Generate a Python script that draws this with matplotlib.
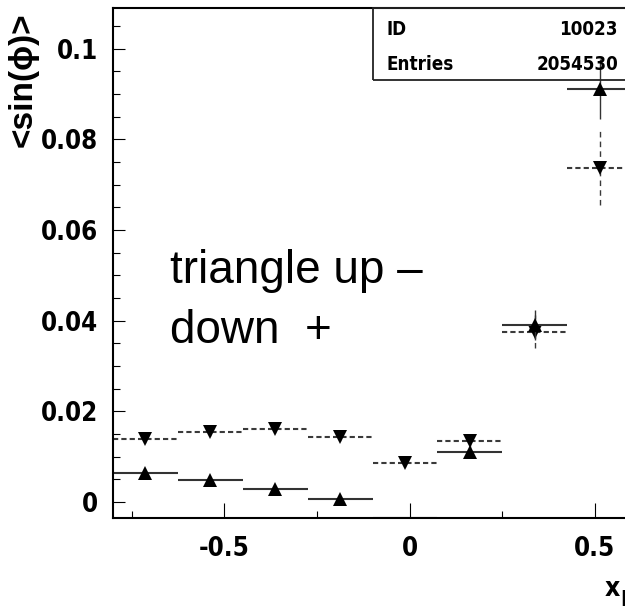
import matplotlib
matplotlib.use("Agg")
import matplotlib.pyplot as plt
import numpy as np
from matplotlib.ticker import FixedLocator, MultipleLocator
from matplotlib.patches import Rectangle

plt.rcParams['axes.unicode_minus'] = False

# bins in x_F (width 0.175)
bin_lo = np.array([-0.8, -0.625, -0.45, -0.275, -0.1, 0.075, 0.25, 0.425])
bin_hi = np.array([-0.625, -0.45, -0.275, -0.1, 0.075, 0.25, 0.425, 0.6])

# triangle up (solid)
up_vals = np.array([0.0063, 0.0048, 0.0028, 0.0006, -0.006, 0.0111, 0.0391, 0.0911])
up_errs = np.array([0.0008, 0.0008, 0.0008, 0.0008, 0.0008, 0.0012, 0.0033, 0.0066])
# triangle down (dashed)
dn_vals = np.array([0.0140, 0.0154, 0.0162, 0.0143, 0.0087, 0.0135, 0.0376, 0.0737])
dn_errs = np.array([0.0009, 0.0009, 0.0009, 0.0009, 0.0009, 0.0012, 0.0036, 0.0082])

xtick_vals = [-0.5, 0, 0.5]
xtick_labels = ['-0.5', '0', '0.5']
ytick_vals = [0, 0.02, 0.04, 0.06, 0.08, 0.1]
ytick_labels = ['0', '0.02', '0.04', '0.06', '0.08', '0.1']

# narrow bold look (ROOT helvetica narrow)
nfont = dict(family='DejaVu Sans', stretch='condensed', weight='bold')
ymin, ymax = -0.00353, 0.109

fig = plt.figure(figsize=(6.25, 6.09), dpi=100)
ax = fig.add_axes([0.1808, 0.1494, 1 - 0.1808, 0.9869 - 0.1494])
ax.set_xlim(-0.8, 0.581)
ax.set_ylim(ymin, ymax)

centers = (bin_lo + bin_hi) / 2
dash = (0, (2.5, 1.5))

# ROOT draws bars clipped to the frame, so keep them at the bottom edge
up_bar = np.maximum(up_vals, ymin)
dn_bar = np.maximum(dn_vals, ymin)

ax.hlines(dn_bar, bin_lo, bin_hi, colors='#3a3a3a', lw=1.5, linestyles=dash)
ax.vlines(centers, dn_vals - dn_errs, dn_vals + dn_errs, colors='#3a3a3a', lw=1.0, linestyles=(0, (4, 3)))
ax.plot(centers, dn_vals, 'v', color='k', ms=10.5, mew=0)

ax.hlines(up_bar, bin_lo, bin_hi, colors='#333333', lw=1.5)
ax.vlines(centers, up_vals - up_errs, up_vals + up_errs, colors='#333333', lw=1.0)
ax.plot(centers, up_vals, '^', color='k', ms=10.5, mew=0)

ax.spines['right'].set_visible(False)
for s in ['left', 'bottom', 'top']:
    ax.spines[s].set_linewidth(1.5)

ax.xaxis.set_major_locator(FixedLocator(xtick_vals))
ax.set_xticklabels(xtick_labels)
ax.xaxis.set_minor_locator(MultipleLocator(0.25))
ax.yaxis.set_major_locator(FixedLocator(ytick_vals))
ax.set_yticklabels(ytick_labels)
ax.yaxis.set_minor_locator(MultipleLocator(0.005))

ax.tick_params(axis='x', which='major', direction='in', length=10.5, width=0.8, pad=13)
ax.tick_params(axis='x', which='minor', direction='in', length=5.2, width=0.8)
ax.tick_params(axis='y', which='major', direction='in', length=8.6, width=0.8, pad=11)
ax.tick_params(axis='y', which='minor', direction='in', length=5, width=0.8)
ax.tick_params(top=False, right=False, which='both')
for lab in ax.get_xticklabels() + ax.get_yticklabels():
    lab.set_family('DejaVu Sans')
    lab.set_stretch('condensed')
    lab.set_fontweight('bold')
    lab.set_fontsize(18.5)

# stats box
fig.patches.append(Rectangle((373 / 625, 1 - 80 / 609), 0.5, 80 / 609 - 8 / 609,
                             transform=fig.transFigure, fill=False, lw=1.3, ec='#222222'))
fig.text(387 / 625, 1 - 35 / 609, 'ID', fontsize=13.5, **nfont)
fig.text(618 / 625, 1 - 35 / 609, '10023', fontsize=13.5, ha='right', **nfont)
fig.text(387 / 625, 1 - 70 / 609, 'Entries', fontsize=13.5, **nfont)
fig.text(618 / 625, 1 - 70 / 609, '2054530', fontsize=13.5, ha='right', **nfont)

# axis titles
fig.text(0.037, 1 - 80 / 609, '<sin(\u03d5)>', rotation=90, ha='center', va='center',
         family=['Liberation Sans', 'DejaVu Sans'], weight='bold', fontsize=24)
fig.text(605 / 625, 1 - 596 / 609, 'x', fontsize=19, **nfont)
fig.text(620 / 625, 1 - 606 / 609, 'F', fontsize=15, **nfont)

# annotation
fig.text(170 / 625, 1 - 283 / 609, 'triangle up \u2013', family='Liberation Sans', fontsize=33)
fig.text(170 / 625, 1 - 343 / 609, 'down  +', family='Liberation Sans', fontsize=33)

fig.savefig('out.png', dpi=100)
